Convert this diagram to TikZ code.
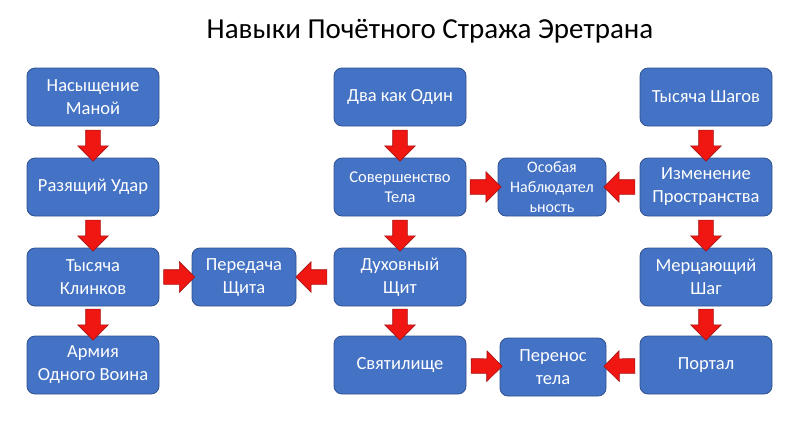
\documentclass[tikz,border=0pt]{standalone}
\usepackage{fontspec}
\setmainfont{Carlito}
\usetikzlibrary{shapes.arrows}
\definecolor{boxblue}{RGB}{68,114,196}
\definecolor{boxedge}{RGB}{47,82,143}
\definecolor{arrred}{RGB}{240,22,18}
\definecolor{arredge}{RGB}{165,20,20}
\begin{document}
\begin{tikzpicture}
  [x=1pt,y=-1pt,
   skill/.style={rectangle,rounded corners=8pt,fill=boxblue,draw=boxedge,line width=.8pt,
     text=white,minimum width=132pt,minimum height=58pt,inner sep=2pt,align=center,
     font=\fontsize{18.5}{23}\selectfont},
   small/.style={font=\fontsize{16.5}{20}\selectfont},
   link/.style={single arrow,fill=arrred,draw=arredge,line width=.6pt,sloped,allow upside down,
     minimum height=31pt,inner xsep=0pt,inner ysep=7pt,single arrow head extend=8pt}]
  \useasboundingbox (0,0) rectangle (800,432);
  \node[font=\fontsize{29}{33}\selectfont] (title) at (430,31) {Навыки Почётного Стража Эретрана};

  \node[skill] (n1) at (93,97)  {Насыщение\\Маной};
  \node[skill] (n2) at (93,187) {Разящий Удар};
  \node[skill] (n3) at (93,277) {Тысяча\\Клинков};
  \node[skill] (n4) at (93,365) {Армия\\Одного Воина};
  \node[skill,minimum width=104pt] (n5) at (244,277) {Передача\\Щита};
  \node[skill] (n6) at (400,97)  {Два как Один};
  \node[skill,small] (n7) at (400,187) {Совершенство\\Тела};
  \node[skill,small,font=\fontsize{16}{20}\selectfont,minimum width=108pt] (n10) at (552,187) {Особая\\Наблюдател\\ьность};
  \node[skill] (n8) at (400,277) {Духовный\\Щит};
  \node[skill] (n9) at (400,365) {Святилище};
  \node[skill] (n11) at (706,97)  {Тысяча Шагов};
  \node[skill] (n12) at (706,187) {Изменение\\Пространства};
  \node[skill] (n13) at (706,277) {Мерцающий\\Шаг};
  \node[skill] (n14) at (706,365) {Портал};
  \node[skill,minimum width=106pt] (n15) at (553,367) {Перенос\\тела};

  \foreach \from/\to in {n1/n2,n2/n3,n3/n4,n3/n5,n8/n5,n6/n7,n7/n8,n8/n9,n7/n10,n12/n10,
      n11/n12,n12/n13,n13/n14,n14/n15,n9/n15}
    \path (\from) -- node[link] {} (\to);

\end{tikzpicture}
\end{document}
